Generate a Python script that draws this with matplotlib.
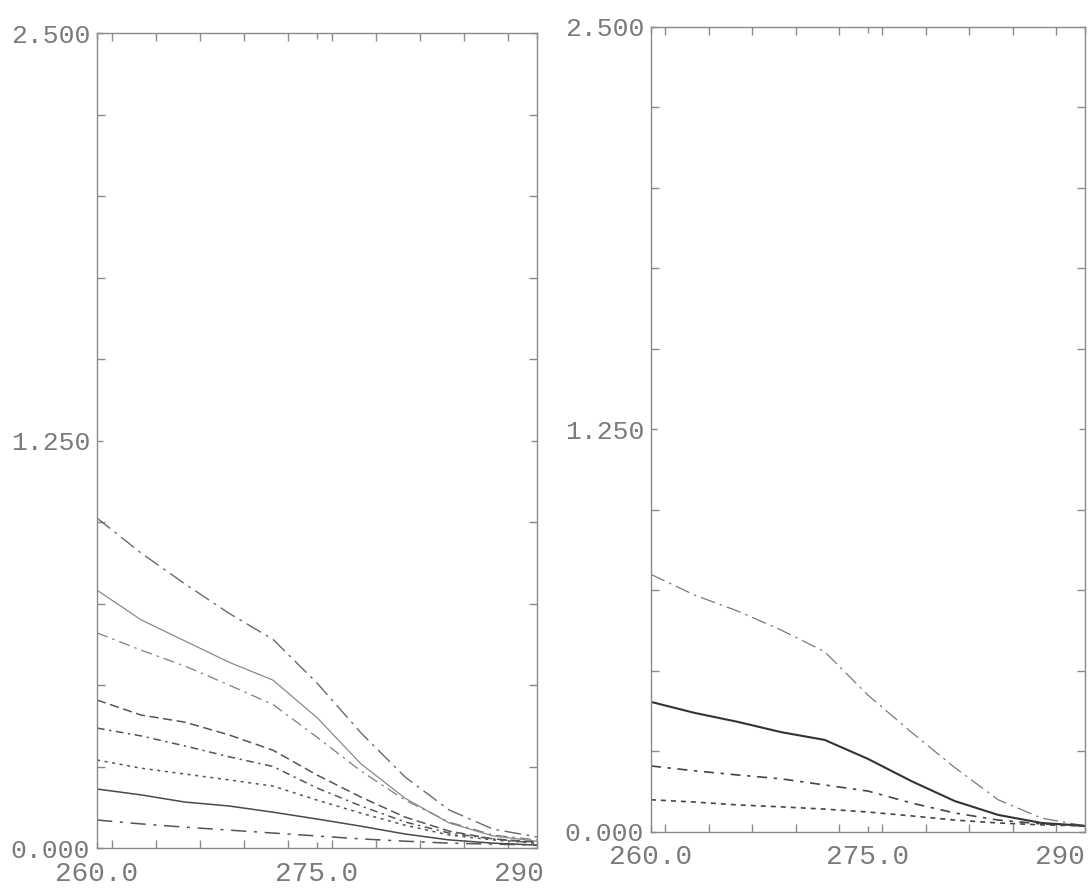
import matplotlib
matplotlib.use("Agg")
import matplotlib.pyplot as plt
from matplotlib.ticker import MultipleLocator
from matplotlib.transforms import ScaledTranslation

# Sample positions shared by every curve
x = [260, 263, 266, 269, 272, 275, 278, 281, 284, 287, 290]

# Left panel: eight curves
left_c1 = [1.012, 0.905, 0.810, 0.720, 0.640, 0.506, 0.353, 0.218, 0.117, 0.058, 0.034]
left_c2 = [0.791, 0.700, 0.635, 0.570, 0.515, 0.400, 0.258, 0.153, 0.077, 0.037, 0.021]
left_c3 = [0.660, 0.607, 0.558, 0.500, 0.440, 0.340, 0.236, 0.147, 0.080, 0.040, 0.025]
left_c4 = [0.454, 0.408, 0.386, 0.347, 0.300, 0.224, 0.156, 0.095, 0.052, 0.028, 0.018]
left_c5 = [0.368, 0.344, 0.313, 0.280, 0.250, 0.184, 0.129, 0.080, 0.046, 0.028, 0.015]
left_c6 = [0.270, 0.245, 0.227, 0.209, 0.190, 0.147, 0.107, 0.070, 0.040, 0.025, 0.015]
left_c7 = [0.181, 0.163, 0.141, 0.129, 0.110, 0.089, 0.067, 0.043, 0.025, 0.015, 0.009]
left_c8 = [0.086, 0.074, 0.064, 0.055, 0.046, 0.037, 0.028, 0.021, 0.015, 0.012, 0.009]

# Right panel: four curves
right_c1 = [0.800, 0.736, 0.686, 0.627, 0.560, 0.425, 0.310, 0.200, 0.100, 0.043, 0.019]
right_c2 = [0.404, 0.370, 0.342, 0.310, 0.286, 0.227, 0.158, 0.096, 0.053, 0.028, 0.019]
right_c3 = [0.205, 0.190, 0.177, 0.165, 0.146, 0.127, 0.090, 0.059, 0.037, 0.025, 0.019]
right_c4 = [0.100, 0.093, 0.084, 0.078, 0.071, 0.062, 0.050, 0.037, 0.028, 0.022, 0.019]

x_ticks = [260, 275, 290]
x_labels = ["260.0", "275.0", "290"]
y_ticks = [0.0, 1.25, 2.5]
y_labels = ["0.000", "1.250", "2.500"]

FONT = "Liberation Mono"
TXT = "#7a7a7a"
FRAME = "#8a8a8a"

fig = plt.figure(figsize=(10.88, 8.88), dpi=100, facecolor="white")
ax_l = fig.add_axes([0.0892, 0.0450, 0.4044, 0.9178])
ax_r = fig.add_axes([0.5983, 0.0631, 0.3989, 0.9065])

left_styles = [
    (left_c1, (0, (12, 4, 2, 4)), "#6a6a6a", 1.0),
    (left_c2, "-", "#8a8a8a", 0.9),
    (left_c3, (0, (9, 4, 2, 4)), "#808080", 0.9),
    (left_c4, (0, (6, 3)), "#555555", 1.1),
    (left_c5, (0, (5, 3, 1.5, 3)), "#555555", 1.1),
    (left_c6, (0, (2, 3)), "#555555", 1.1),
    (left_c7, "-", "#4a4a4a", 1.1),
    (left_c8, (0, (10, 5, 2, 5)), "#555555", 1.1),
]
for ys, ls, col, lw in left_styles:
    ax_l.plot(x, ys, linestyle=ls, color=col, linewidth=lw)

right_styles = [
    (right_c1, (0, (12, 4, 2, 4)), "#7a7a7a", 0.9),
    (right_c2, "-", "#333333", 1.5),
    (right_c3, (0, (6, 4, 2, 4)), "#444444", 1.2),
    (right_c4, (0, (3, 3)), "#444444", 1.2),
]
for ys, ls, col, lw in right_styles:
    ax_r.plot(x, ys, linestyle=ls, color=col, linewidth=lw)

for ax, shift in ((ax_l, -0.43), (ax_r, -0.50)):
    ax.set_xlim(260, 290)
    ax.set_ylim(0, 2.5)
    ax.set_facecolor("white")
    for s in ax.spines.values():
        s.set_color(FRAME)
        s.set_linewidth(1.0)
    ax.set_xticks(x_ticks)
    ax.set_xticklabels(x_labels, fontfamily=FONT, fontsize=20, color=TXT)
    ax.set_yticks(y_ticks)
    ax.set_yticklabels(y_labels, fontfamily=FONT, fontsize=19, color=TXT)
    ax.xaxis.set_minor_locator(MultipleLocator(3))
    ax.yaxis.set_minor_locator(MultipleLocator(0.25))
    ax.tick_params(which="both", direction="in", top=True, right=True,
                   color=FRAME, width=1.0)
    ax.tick_params(which="major", length=4)
    ax.tick_params(which="minor", length=6)
    ax.tick_params(axis="x", which="major", pad=9)
    ax.tick_params(axis="y", which="major", pad=5)
    # last x label is left-aligned and pulled back under the right edge
    last = ax.get_xticklabels()[-1]
    last.set_horizontalalignment("left")
    last.set_transform(last.get_transform() + ScaledTranslation(shift, 0, fig.dpi_scale_trans))

fig.savefig("out.png", dpi=100, facecolor="white")
